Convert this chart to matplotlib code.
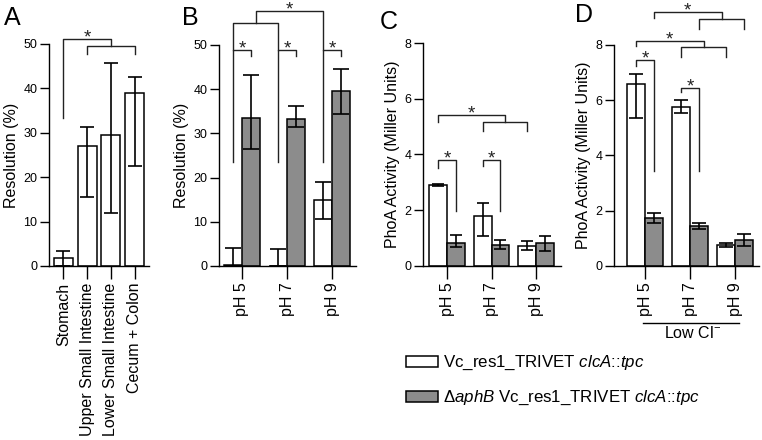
import numpy as np
import matplotlib.pyplot as plt
from matplotlib.patches import Rectangle

plt.rcParams['font.family'] = ['Liberation Sans', 'DejaVu Sans']
plt.rcParams['mathtext.fontset'] = 'custom'
plt.rcParams['mathtext.rm'] = 'Liberation Sans'
plt.rcParams['mathtext.it'] = 'Liberation Sans:italic'

# Panel A: resolution per gut section
sites = ["Stomach", "Upper Small Intestine", "Lower Small Intestine", "Cecum + Colon"]
a_mean = [1.8, 27.0, 29.5, 39.0]
a_low = [0.0, 15.5, 12.0, 22.5]
a_high = [3.4, 31.2, 45.8, 42.6]

# Panel B: resolution vs pH (white = parent, gray = aphB mutant)
ph_labels = ["pH 5", "pH 7", "pH 9"]
b_wt = [0.3, 0.0, 15.0]
b_wt_low = [0.0, 0.0, 10.6]
b_wt_high = [4.1, 3.8, 19.0]
b_mut = [33.5, 33.2, 39.7]
b_mut_low = [26.5, 31.5, 34.3]
b_mut_high = [43.1, 36.2, 44.5]

# Panel C: PhoA activity
c_wt = [2.9, 1.8, 0.72]
c_wt_low = [2.86, 1.08, 0.57]
c_wt_high = [2.94, 2.27, 0.90]
c_mut = [0.84, 0.74, 0.84]
c_mut_low = [0.69, 0.60, 0.53]
c_mut_high = [1.13, 0.93, 1.07]

# Panel D: PhoA activity, low chloride
d_wt = [6.6, 5.77, 0.76]
d_wt_low = [5.35, 5.55, 0.70]
d_wt_high = [6.95, 6.01, 0.84]
d_mut = [1.75, 1.45, 0.94]
d_mut_low = [1.57, 1.34, 0.72]
d_mut_high = [1.92, 1.57, 1.15]

GRAY = '#8c8c8c'
LINE = '#222222'
W, H = 762, 440
fig = plt.figure(figsize=(W / 100, H / 100), dpi=100)


def add_ax(left, right, top, bottom):
    return fig.add_axes([left / W, 1 - bottom / H, (right - left) / W, (bottom - top) / H])


def style(ax):
    ax.spines[['top', 'right']].set_visible(False)
    for s in ['left', 'bottom']:
        ax.spines[s].set_linewidth(1.0)
    ax.tick_params(axis='y', length=6.5, width=1, labelsize=9, pad=2)
    ax.tick_params(axis='x', length=9, width=1, labelsize=11.5, pad=3)


def bars(ax, x, mean, low, high, color, width, capsize):
    mean = np.array(mean)
    err = [mean - np.array(low), np.array(high) - mean]
    ax.bar(x, mean, width=width, color=color, edgecolor='black', linewidth=1.1, zorder=2)
    ax.errorbar(x, mean, yerr=err, fmt='none', ecolor='black', elinewidth=1.2,
                capsize=capsize, capthick=1.2, zorder=3)


def bracket(ax, x1, x2, y, y1, y2, star=True):
    ax.plot([x1, x1, x2, x2], [y1, y, y, y2], color=LINE, lw=1, clip_on=False)
    if star:
        ax.annotate('*', xy=((x1 + x2) / 2, y), xytext=(0, -2.5), textcoords='offset points',
                    ha='center', va='baseline', fontsize=13.5, color=LINE, annotation_clip=False)


# ---- A
axA = add_ax(49, 149, 44, 266)
xa = np.arange(len(sites))
bars(axA, xa, a_mean, a_low, a_high, 'white', 0.8, 5)
axA.set_xlim(-0.61, 3.61)
axA.set_ylim(0, 50)
axA.set_yticks([0, 10, 20, 30, 40, 50])
axA.set_xticks(xa)
axA.set_xticklabels(sites, rotation=90)
axA.set_ylabel('Resolution (%)', fontsize=11.5, labelpad=3)
style(axA)
bracket(axA, 1, 3, 49.5, 47.7, 47.7, star=False)
bracket(axA, 0, 2, 51.1, 33.3, 49.5)

# ---- B
axB = add_ax(219, 356, 45, 266)
xg = np.arange(len(ph_labels))
bars(axB, xg - 0.2, b_wt, b_wt_low, b_wt_high, 'white', 0.4, 5.5)
bars(axB, xg + 0.2, b_mut, b_mut_low, b_mut_high, GRAY, 0.4, 5.5)
axB.set_xlim(-0.51, 2.53)
axB.set_ylim(0, 50)
axB.set_yticks([0, 10, 20, 30, 40, 50])
axB.set_xticks(xg)
axB.set_xticklabels(ph_labels, rotation=90)
axB.set_ylabel('Resolution (%)', fontsize=11.5, labelpad=3)
style(axB)
for g in xg:
    bracket(axB, g - 0.2, g + 0.2, 48.9, 23.6, 47.4)
bracket(axB, -0.2, 0.8, 55.0, 48.9, 48.9, star=False)
bracket(axB, 0.3, 1.8, 57.8, 55.0, 48.9)

# ---- C
axC = add_ax(423, 561, 43, 266)
bars(axC, xg - 0.2, c_wt, c_wt_low, c_wt_high, 'white', 0.4, 4.5)
bars(axC, xg + 0.2, c_mut, c_mut_low, c_mut_high, GRAY, 0.4, 4.5)
axC.set_xlim(-0.54, 2.56)
axC.set_ylim(0, 8)
axC.set_yticks([0, 2, 4, 6, 8])
axC.set_xticks(xg)
axC.set_xticklabels(ph_labels, rotation=90)
axC.set_ylabel('PhoA Activity (Miller Units)', fontsize=11.5, labelpad=3)
style(axC)
bracket(axC, -0.2, 0.2, 3.79, 3.52, 1.97)
bracket(axC, 0.8, 1.2, 3.79, 3.58, 1.97)
bracket(axC, 0.8, 1.8, 5.17, 4.84, 4.84, star=False)
bracket(axC, -0.2, 1.3, 5.41, 5.17, 5.17)

# ---- D
axD = add_ax(614, 759, 45, 266)
bars(axD, xg - 0.2, d_wt, d_wt_low, d_wt_high, 'white', 0.4, 4.8)
bars(axD, xg + 0.2, d_mut, d_mut_low, d_mut_high, GRAY, 0.4, 4.8)
axD.set_xlim(-0.69, 2.53)
axD.set_ylim(0, 8)
axD.set_yticks([0, 2, 4, 6, 8])
axD.set_xticks(xg)
axD.set_xticklabels(ph_labels, rotation=90)
axD.set_ylabel('PhoA Activity (Miller Units)', fontsize=11.5, labelpad=3)
style(axD)
bracket(axD, -0.2, 0.2, 7.44, 7.25, 3.45)
bracket(axD, 0.8, 1.2, 6.46, 6.29, 3.45)
bracket(axD, 0.8, 1.8, 7.93, 7.56, 7.56, star=False)
bracket(axD, -0.2, 1.3, 8.16, 7.97, 7.93)
bracket(axD, 1.2, 2.2, 8.94, 8.58, 8.58, star=False)
bracket(axD, 0.2, 1.7, 9.19, 8.99, 8.94)

# Low Cl- annotation under panel D
fig.add_artist(plt.Line2D([643 / W, 739 / W], [1 - 323 / H, 1 - 323 / H], color='black', lw=1))
fig.text(693 / W, 1 - 338 / H, r'Low Cl$^{-}$', ha='center', va='baseline', fontsize=11.5)

# legend drawn by hand
fig.add_artist(Rectangle((406 / W, 1 - 367 / H), 32 / W, 11 / H, facecolor='white',
                         edgecolor='black', lw=1.1, transform=fig.transFigure))
fig.add_artist(Rectangle((406 / W, 1 - 402 / H), 32 / W, 11 / H, facecolor=GRAY,
                         edgecolor='black', lw=1.1, transform=fig.transFigure))
fig.text(443 / W, 1 - 367 / H, r'Vc_res1_TRIVET $\it{clcA}$::$\it{tpc}$',
         ha='left', va='baseline', fontsize=12.2)
fig.text(443 / W, 1 - 402 / H, r'Δ$\it{aphB}$ Vc_res1_TRIVET $\it{clcA}$::$\it{tpc}$',
         ha='left', va='baseline', fontsize=12.2)

# panel letters
for lab, x, y in [('A', 4, 25), ('B', 182, 25), ('C', 380, 29), ('D', 575, 22)]:
    fig.text(x / W, 1 - y / H, lab, ha='left', va='baseline', fontsize=18)

fig.savefig('out.png', dpi=100)
